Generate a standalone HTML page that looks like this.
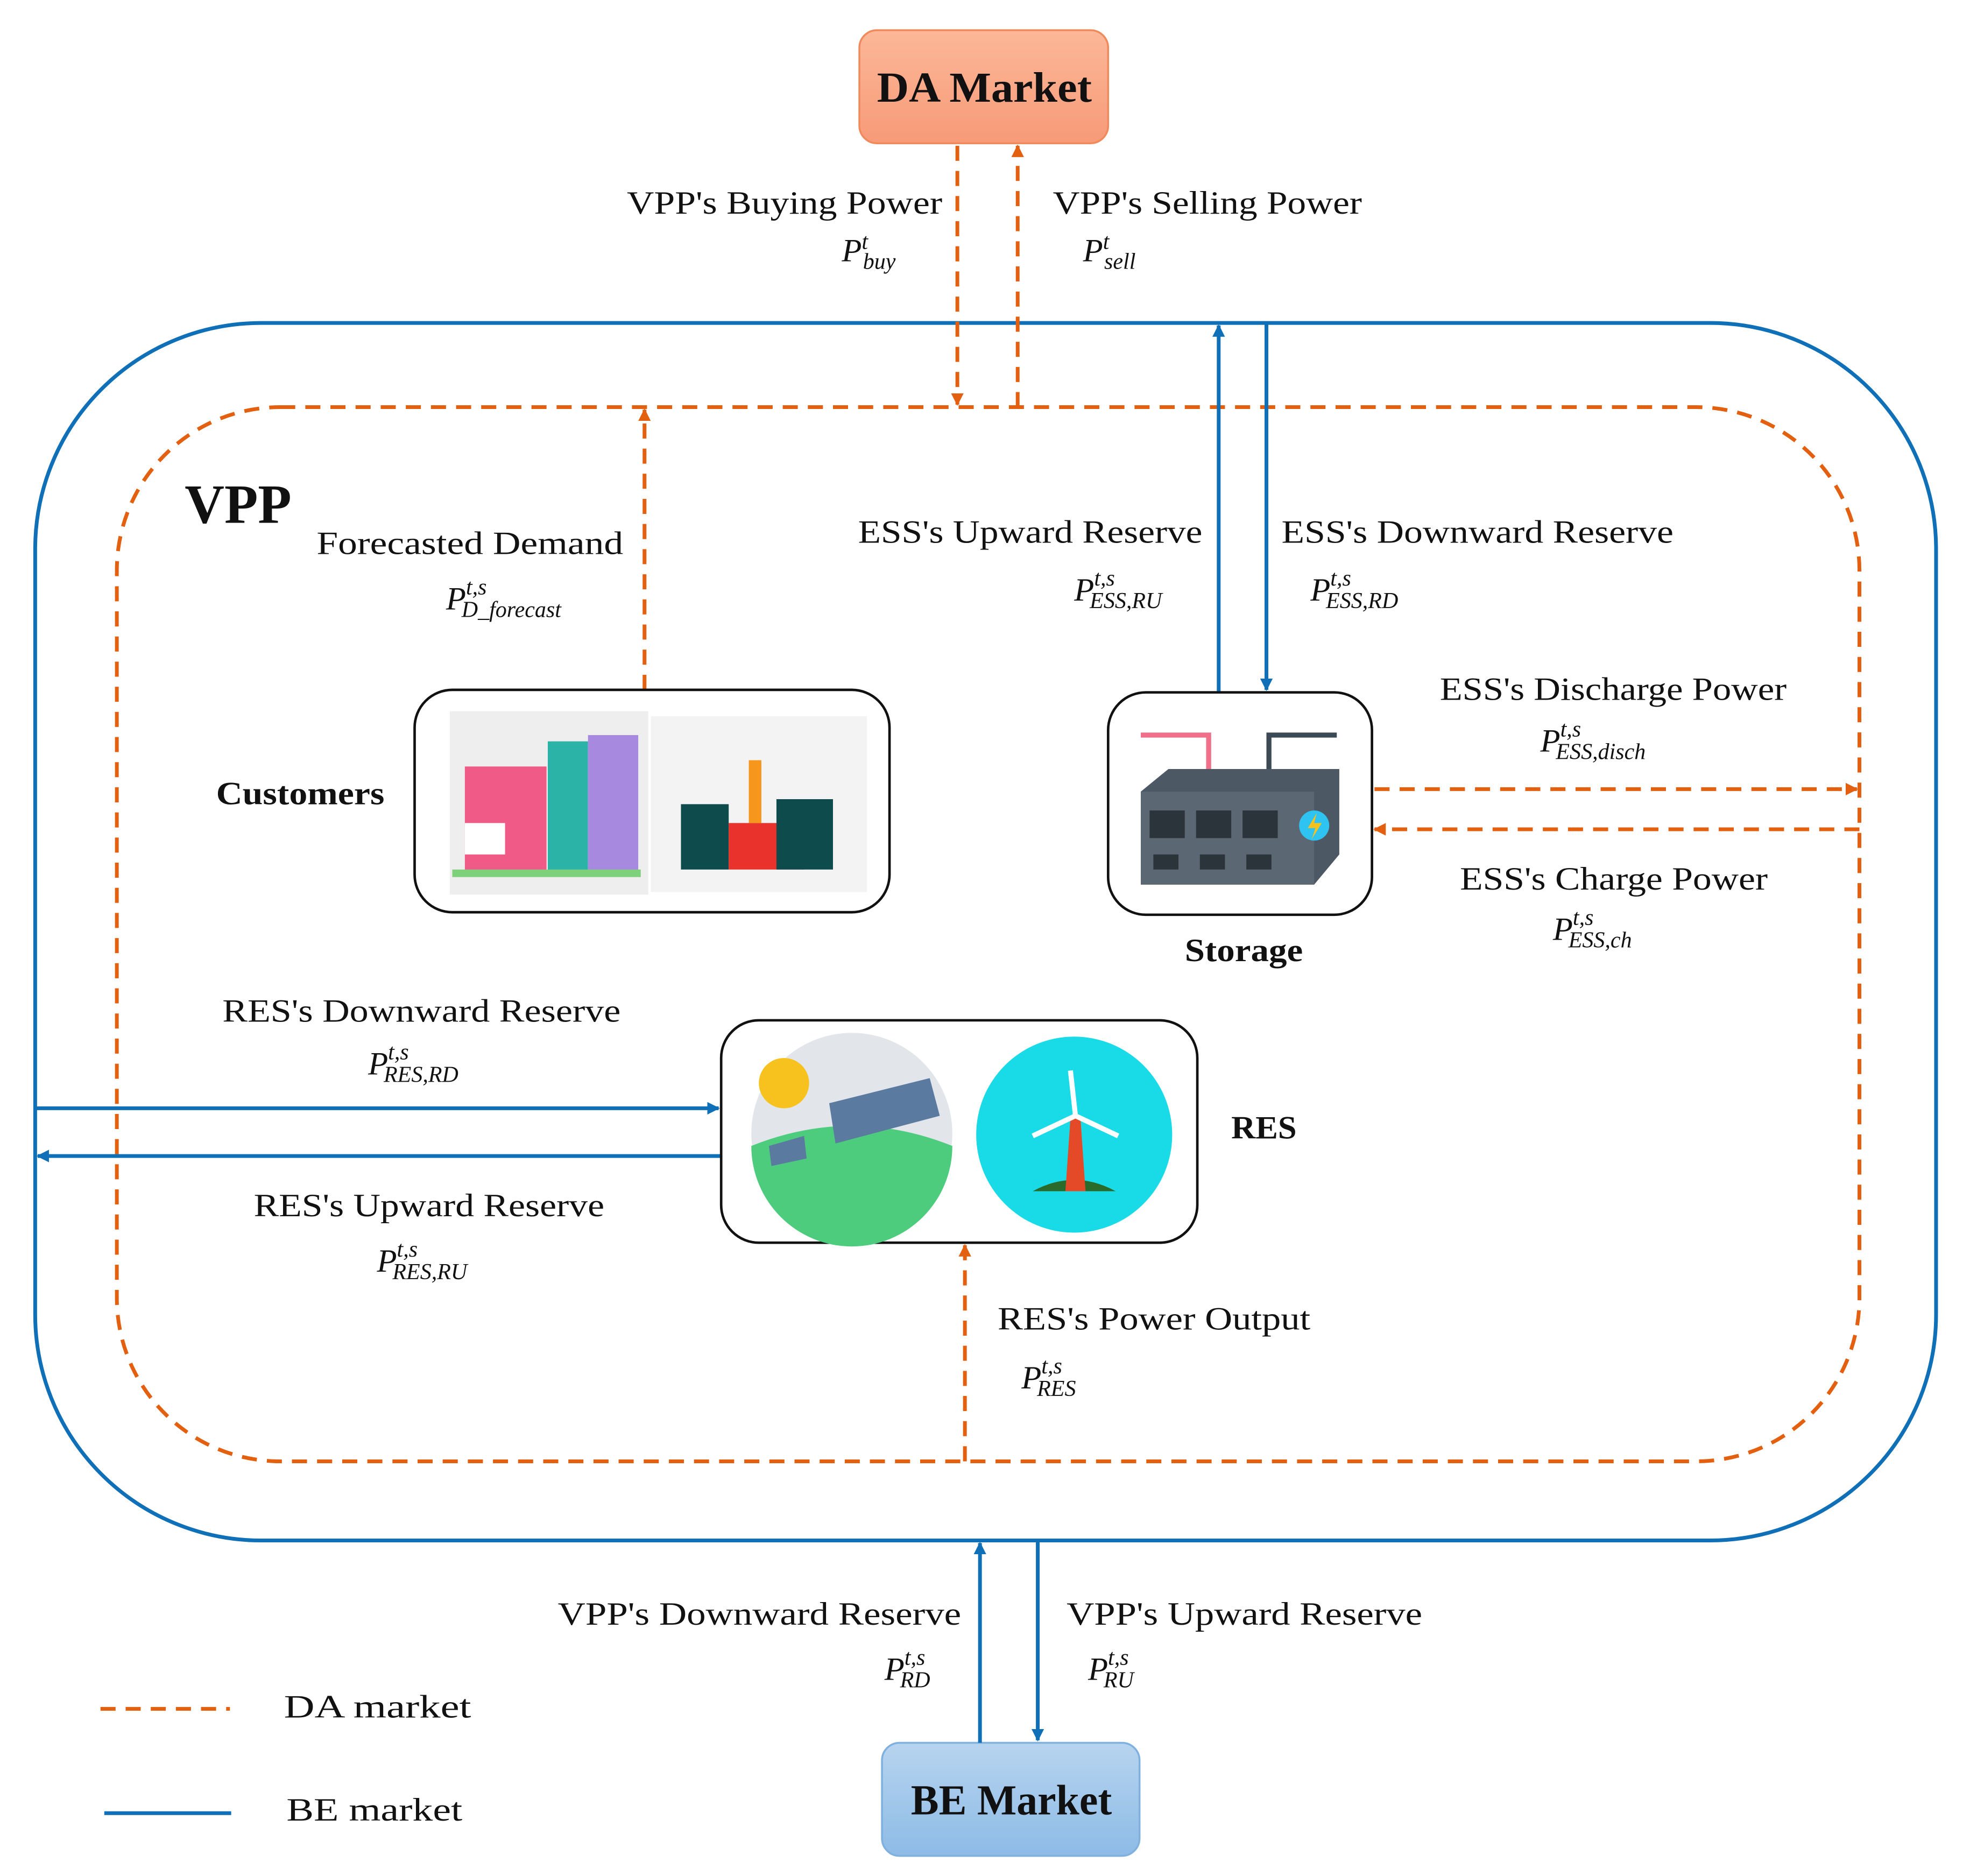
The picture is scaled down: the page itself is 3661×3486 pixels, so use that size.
<!DOCTYPE html>
<html><head><meta charset="utf-8"><style>
html,body{margin:0;padding:0;background:#fff;}
svg{display:block;}
text{font-family:"Liberation Serif",serif;fill:#111;}
.l{font-size:26px;}
.b{font-weight:bold;}
.p{font-style:italic;font-size:26px;}
.s{font-size:18px;font-style:italic;}
</style></head><body>
<svg width="3661" height="3486" viewBox="0 0 1568 1493" xmlns="http://www.w3.org/2000/svg">
<defs>
<linearGradient id="og" x1="0" y1="0" x2="0" y2="1"><stop offset="0" stop-color="#fbb898"/><stop offset="1" stop-color="#f79a78"/></linearGradient>
<linearGradient id="bg" x1="0" y1="0" x2="0" y2="1"><stop offset="0" stop-color="#b7d4ef"/><stop offset="1" stop-color="#8dbbe6"/></linearGradient>
<marker id="ao" markerWidth="10" markerHeight="10" refX="9" refY="5" orient="auto" markerUnits="userSpaceOnUse"><path d="M0,0 L10,5 L0,10 z" fill="#e2600f"/></marker>
<marker id="ab" markerWidth="10" markerHeight="10" refX="9" refY="5" orient="auto" markerUnits="userSpaceOnUse"><path d="M0,0 L10,5 L0,10 z" fill="#0f70b7"/></marker>
</defs>
<rect width="1568" height="1493" fill="#fff"/>
<rect x="28" y="257" width="1513" height="969" rx="180" fill="none" stroke="#0f70b7" stroke-width="3"/>
<rect x="93" y="324" width="1387" height="839" rx="130" fill="none" stroke="#e2600f" stroke-width="3" stroke-dasharray="12 8"/>
<rect x="684" y="24" width="198" height="90" rx="14" fill="url(#og)" stroke="#f08a5d" stroke-width="1.5"/>
<text x="698" y="81" class="b" font-size="34" textLength="171" lengthAdjust="spacingAndGlyphs">DA Market</text>
<rect x="702" y="1387" width="205" height="90" rx="14" fill="url(#bg)" stroke="#7fb0de" stroke-width="1.5"/>
<text x="725" y="1444" class="b" font-size="34" textLength="160" lengthAdjust="spacingAndGlyphs">BE Market</text>
<g stroke="#e2600f" stroke-width="3" stroke-dasharray="12 8" fill="none">
<line x1="762" y1="116" x2="762" y2="322" marker-end="url(#ao)"/>
<line x1="810" y1="324" x2="810" y2="116" marker-end="url(#ao)"/>
<line x1="513" y1="549" x2="513" y2="326" marker-end="url(#ao)"/>
<line x1="1094" y1="628" x2="1478" y2="628" marker-end="url(#ao)"/>
<line x1="1480" y1="660" x2="1094" y2="660" marker-end="url(#ao)"/>
<line x1="768" y1="1163" x2="768" y2="991" marker-end="url(#ao)"/>
<line x1="80" y1="1360" x2="183" y2="1360"/>
</g>
<g stroke="#0f70b7" stroke-width="3" fill="none">
<line x1="970" y1="551" x2="970" y2="259" marker-end="url(#ab)"/>
<line x1="1008" y1="257" x2="1008" y2="549" marker-end="url(#ab)"/>
<line x1="28" y1="882" x2="572" y2="882" marker-end="url(#ab)"/>
<line x1="574" y1="920" x2="30" y2="920" marker-end="url(#ab)"/>
<line x1="780" y1="1387" x2="780" y2="1228" marker-end="url(#ab)"/>
<line x1="826" y1="1226" x2="826" y2="1385" marker-end="url(#ab)"/>
<line x1="83" y1="1443" x2="184" y2="1443"/>
</g>
<rect x="330" y="549" width="378" height="177" rx="30" fill="#fff" stroke="#111" stroke-width="2"/>
<rect x="882" y="551" width="210" height="177" rx="30" fill="#fff" stroke="#111" stroke-width="2"/>
<rect x="574" y="812" width="379" height="177" rx="30" fill="#fff" stroke="#111" stroke-width="2"/>
<rect x="358" y="566" width="158" height="146" fill="#eeeeee"/>
<rect x="518" y="570" width="172" height="140" fill="#f3f3f3"/>
<rect x="370" y="610" width="65" height="85" fill="#ef5b86"/>
<rect x="436" y="590" width="32" height="105" fill="#2bb3a8"/>
<rect x="468" y="585" width="40" height="110" fill="#a78ae0"/>
<rect x="370" y="655" width="32" height="25" fill="#fff"/>
<rect x="542" y="640" width="38" height="52" fill="#0e4b4d"/>
<rect x="580" y="655" width="60" height="37" fill="#e8322b"/>
<rect x="596" y="605" width="10" height="50" fill="#f7961d"/>
<rect x="618" y="636" width="45" height="56" fill="#0e4b4d"/>
<rect x="360" y="692" width="150" height="6" fill="#7ed17b"/>
<path d="M908 585 H962 V615" stroke="#f0708a" stroke-width="4" fill="none"/>
<path d="M1010 615 V585 H1064" stroke="#3c4a55" stroke-width="4" fill="none"/>
<polygon points="908,630 930,612 1066,612 1066,680 1046,704 908,704" fill="#4c5863"/>
<rect x="908" y="630" width="138" height="74" fill="#5b6772"/>
<g fill="#2c343b"><rect x="915" y="645" width="28" height="22"/><rect x="952" y="645" width="28" height="22"/><rect x="989" y="645" width="28" height="22"/><rect x="918" y="680" width="20" height="12"/><rect x="955" y="680" width="20" height="12"/><rect x="992" y="680" width="20" height="12"/></g>
<circle cx="1046" cy="657" r="12" fill="#2ec3f0"/>
<path d="M1048 647 L1041 659 H1047 L1044 668 L1052 655 H1046 Z" fill="#f7c21d"/>
<circle cx="678" cy="902" r="80" fill="#e2e6ea"/>
<path d="M598 912 Q678 880 758 912 A80 80 0 0 1 598 912 Z" fill="#4ccc7c"/>
<circle cx="624" cy="862" r="20" fill="#f7c21d"/>
<polygon points="660,878 740,858 748,888 665,910" fill="#5a7aa0"/>
<polygon points="612,912 640,904 642,922 614,928" fill="#5a7aa0"/>
<circle cx="855" cy="903" r="78" fill="#19dbe8"/>
<path d="M822 948 Q855 930 888 948 Z" fill="#2a6a2a"/>
<polygon points="852,890 860,890 864,948 848,948" fill="#e54a28"/>
<path d="M856 888 L890 904 M856 888 L822 904 M856 888 L852 852" stroke="#fff" stroke-width="4"/>
<text x="147" y="416" class="b" font-size="44" textLength="85" lengthAdjust="spacingAndGlyphs">VPP</text>
<text x="499" y="170" class="l" textLength="251" lengthAdjust="spacingAndGlyphs">VPP's Buying Power</text>
<text x="670" y="208" class="p">P<tspan dy="-10" class="s">t</tspan><tspan dx="-4" dy="16" class="s">buy</tspan></text>
<text x="838" y="170" class="l" textLength="246" lengthAdjust="spacingAndGlyphs">VPP's Selling Power</text>
<text x="862" y="208" class="p">P<tspan dy="-10" class="s">t</tspan><tspan dx="-4" dy="16" class="s">sell</tspan></text>
<text x="252" y="441" class="l" textLength="244" lengthAdjust="spacingAndGlyphs">Forecasted Demand</text>
<text x="355" y="485" class="p">P<tspan dy="-12" class="s">t,s</tspan><tspan dx="-20" dy="18" class="s">D_forecast</tspan></text>
<text x="172" y="640" class="l b" textLength="134" lengthAdjust="spacingAndGlyphs">Customers</text>
<text x="683" y="432" class="l" textLength="274" lengthAdjust="spacingAndGlyphs">ESS's Upward Reserve</text>
<text x="855" y="478" class="p">P<tspan dy="-12" class="s">t,s</tspan><tspan dx="-20" dy="18" class="s">ESS,RU</tspan></text>
<text x="1020" y="432" class="l" textLength="312" lengthAdjust="spacingAndGlyphs">ESS's Downward Reserve</text>
<text x="1043" y="478" class="p">P<tspan dy="-12" class="s">t,s</tspan><tspan dx="-20" dy="18" class="s">ESS,RD</tspan></text>
<text x="1146" y="557" class="l" textLength="276" lengthAdjust="spacingAndGlyphs">ESS's Discharge Power</text>
<text x="1226" y="598" class="p">P<tspan dy="-12" class="s">t,s</tspan><tspan dx="-20" dy="18" class="s">ESS,disch</tspan></text>
<text x="1162" y="708" class="l" textLength="245" lengthAdjust="spacingAndGlyphs">ESS's Charge Power</text>
<text x="1236" y="748" class="p">P<tspan dy="-12" class="s">t,s</tspan><tspan dx="-20" dy="18" class="s">ESS,ch</tspan></text>
<text x="943" y="765" class="l b" textLength="94" lengthAdjust="spacingAndGlyphs">Storage</text>
<text x="177" y="813" class="l" textLength="317" lengthAdjust="spacingAndGlyphs">RES's Downward Reserve</text>
<text x="293" y="855" class="p">P<tspan dy="-12" class="s">t,s</tspan><tspan dx="-20" dy="18" class="s">RES,RD</tspan></text>
<text x="202" y="968" class="l" textLength="279" lengthAdjust="spacingAndGlyphs">RES's Upward Reserve</text>
<text x="300" y="1012" class="p">P<tspan dy="-12" class="s">t,s</tspan><tspan dx="-20" dy="18" class="s">RES,RU</tspan></text>
<text x="980" y="906" class="l b" textLength="52" lengthAdjust="spacingAndGlyphs">RES</text>
<text x="794" y="1058" class="l" textLength="249" lengthAdjust="spacingAndGlyphs">RES's Power Output</text>
<text x="813" y="1105" class="p">P<tspan dy="-12" class="s">t,s</tspan><tspan dx="-20" dy="18" class="s">RES</tspan></text>
<text x="444" y="1293" class="l" textLength="321" lengthAdjust="spacingAndGlyphs">VPP's Downward Reserve</text>
<text x="704" y="1337" class="p">P<tspan dy="-12" class="s">t,s</tspan><tspan dx="-20" dy="18" class="s">RD</tspan></text>
<text x="849" y="1293" class="l" textLength="283" lengthAdjust="spacingAndGlyphs">VPP's Upward Reserve</text>
<text x="866" y="1337" class="p">P<tspan dy="-12" class="s">t,s</tspan><tspan dx="-20" dy="18" class="s">RU</tspan></text>
<text x="226" y="1367" class="l" font-size="28" textLength="149" lengthAdjust="spacingAndGlyphs">DA market</text>
<text x="228" y="1449" class="l" font-size="28" textLength="140" lengthAdjust="spacingAndGlyphs">BE market</text>
</svg>
</body></html>
